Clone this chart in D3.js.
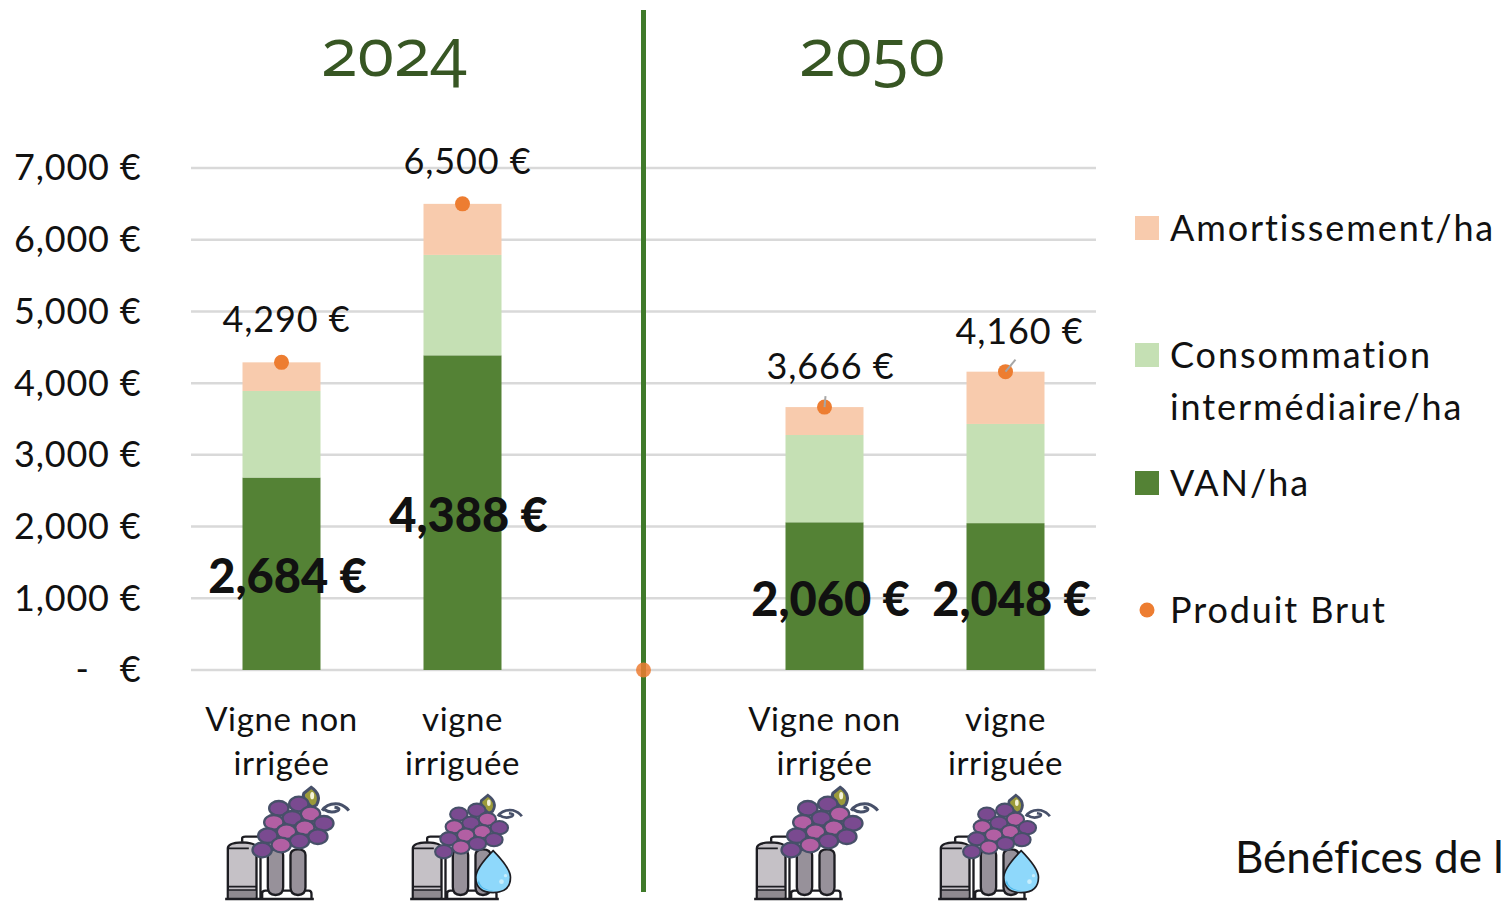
<!DOCTYPE html>
<html><head><meta charset="utf-8">
<script src="https://cdn.jsdelivr.net/npm/d3@7/dist/d3.min.js"></script>
<style>html,body{margin:0;background:#fff;overflow:hidden}svg{display:block}text{font-family:Lato,"Open Sans",sans-serif;fill:#111;font-variant-ligatures:none}</style>
</head><body><svg id="c" width="1501" height="903"></svg>
<script>
const categories=["a","b","gap","c","d"];
const barCategories=["a","b","c","d"];
const labelLines={a:["Vigne non","irrigée"],b:["vigne","irriguée"],c:["Vigne non","irrigée"],d:["vigne","irriguée"]};
const van=[2684,4388,2060,2048];
const conso=[1207,1400,1217,1383];
const amort=[399,712,389,729];
const produit=[4290,6500,3666,4160];
const produitGap=0;
const yTicks=[0,1000,2000,3000,4000,5000,6000,7000];
const years=["2024","2050"];
const C={van:"#548235",conso:"#c5e0b4",amort:"#f8cbad",dot:"#ed7d31",grid:"#d9d9d9",line:"#3f7a2a",title:"#375623"};

const svg=d3.select("#c");
const x=d3.scaleBand().domain(categories).range([191,1096]);
const y=d3.scaleLinear().domain([0,7000]).range([670,168]);
const cx=k=>x(k)+x.bandwidth()/2, bw=78;
const fmt=d3.format(",");

const ax=svg.append("g").attr("transform","translate(191,0)").call(
  d3.axisLeft(y).tickValues(yTicks).tickSize(0).tickPadding(49.5)
  .tickFormat(d=>d===0?"-\u00A0\u00A0\u00A0€":fmt(d)+" €"));
ax.select(".domain").remove();
ax.selectAll("text").attr("font-size",36).style("font-family","Lato").attr("fill","#111").attr("dy","0.33em").style("letter-spacing","0.8px");
svg.append("g").selectAll("line").data(yTicks).join("line")
 .attr("x1",191).attr("x2",1096).attr("y1",y).attr("y2",y)
 .attr("stroke",C.grid).attr("stroke-width",2.5);

barCategories.forEach((k,i)=>{
  let base=0;
  [[van[i],C.van],[conso[i],C.conso],[amort[i],C.amort]].forEach(([v,col])=>{
    svg.append("rect").attr("x",cx(k)-bw/2).attr("width",bw)
      .attr("y",y(base+v)).attr("height",y(base)-y(base+v)).attr("fill",col);
    base+=v;
  });
});

svg.append("line").attr("x1",cx("gap")).attr("x2",cx("gap")).attr("y1",10).attr("y2",892)
  .attr("stroke",C.line).attr("stroke-width",5);
barCategories.forEach((k,i)=>{
  svg.append("circle").attr("cx",cx(k)).attr("cy",y(produit[i])).attr("r",7.5).attr("fill",C.dot);
});
svg.append("circle").attr("cx",cx("gap")).attr("cy",y(produitGap)).attr("r",7.5).attr("fill",C.dot).attr("opacity",0.85);
[[2,1,-11],[3,10,-12]].forEach(([i,dx,dy])=>{
  const k=barCategories[i];
  svg.append("line").attr("x1",cx(k)).attr("y1",y(produit[i])).attr("x2",cx(k)+dx).attr("y2",y(produit[i])+dy)
    .attr("stroke","#a6a6a6").attr("stroke-width",2);
});

const totalOff=[[5,-43],[5,-43],[6,-41],[14,-41]];
barCategories.forEach((k,i)=>{
  svg.append("text").attr("x",cx(k)+totalOff[i][0]).attr("y",y(produit[i])+totalOff[i][1]+13)
   .attr("text-anchor","middle").attr("font-size",36).style("letter-spacing","0.9px").text(fmt(produit[i])+" €");
});
const vanLabelY=[577,516,600,600];
barCategories.forEach((k,i)=>{
  svg.append("text").attr("x",cx(k)+6).attr("y",vanLabelY[i]+16)
   .attr("text-anchor","middle").attr("font-size",47).attr("font-weight",900).text(fmt(van[i])+" €");
});
barCategories.forEach(k=>{
  labelLines[k].forEach((t,j)=>{
    svg.append("text").attr("x",cx(k)).attr("y",731+j*44).attr("text-anchor","middle")
      .attr("font-size",33).style("letter-spacing","0.6px").text(t);
  });
});
[[394,years[0]],[872,years[1]]].forEach(([px,t])=>{
  svg.append("text").attr("x",px).attr("y",76).attr("text-anchor","middle").attr("font-size",67)
    .style("fill",C.title).style("font-family","Open Sans").style("font-feature-settings",'"onum"').text(t);
});

const legend=[
 {t:["Amortissement/ha"],c:C.amort,ly:228},
 {t:["Consommation","intermédiaire/ha"],c:C.conso,ly:355},
 {t:["VAN/ha"],c:C.van,ly:483},
 {t:["Produit Brut"],c:C.dot,ly:610,dot:true}];
legend.forEach(d=>{
  if(d.dot) svg.append("circle").attr("cx",1147).attr("cy",d.ly).attr("r",7.5).attr("fill",d.c);
  else svg.append("rect").attr("x",1135).attr("y",d.ly-12).attr("width",24).attr("height",24).attr("fill",d.c);
  d.t.forEach((s,j)=>svg.append("text").attr("x",1170).attr("y",d.ly+13+j*52).attr("font-size",36).style("letter-spacing","1.9px").text(s));
});
svg.append("text").attr("x",1235).attr("y",873).attr("font-size",44).text("Bénéfices de l");

const grapes=[[205,85,0],[265,72,0],[300,102,1],[245,115,0],[190,127,1],[340,130,0],[283,143,1],[228,155,1],[172,167,0],[322,170,0],[267,183,0],[212,195,1],[155,210,0]];
function icon(k,dx,dy,drop){
  const g=svg.append("g").attr("transform",`translate(${cx(k)+dx},${dy}) scale(0.3333)`);
  const S="#1d1d22";
  g.append("path").attr("d","M95 185 V175 Q95 170 105 170 H170 M150 230 V355 M155 355 V340 Q155 332 165 332 H295 Q303 332 303 342 V355").attr("fill","none").attr("stroke",S).attr("stroke-width",7);
  g.append("path").attr("d","M52 355 V205 Q52 188 95 187 Q138 188 138 205 V355 Z").attr("fill","#c5c1c6").attr("stroke",S).attr("stroke-width",7);
  g.append("rect").attr("x",55).attr("y",330).attr("width",80).attr("height",24).attr("fill","#8f8a90");
  g.append("path").attr("d","M52 205 H115 M52 320 H138 M52 330 H138").attr("stroke",S).attr("stroke-width",5);
  [[172,218],[240,285]].forEach(([a,b])=>{
    g.append("path").attr("d",`M${a} 225 Q${a} 208 ${(a+b)/2} 208 Q${b} 208 ${b} 225 V322 Q${b} 345 ${(a+b)/2} 345 Q${a} 345 ${a} 322 Z`)
     .attr("fill","#97919a").attr("stroke",S).attr("stroke-width",7);
  });
  g.append("line").attr("x1",44).attr("x2",310).attr("y1",357).attr("y2",357).attr("stroke",S).attr("stroke-width",7);
  const h=g.append("g").attr("transform",drop?"translate(5.5,26) scale(0.9)":"");
  h.append("path").attr("d","M335 92 Q350 68 385 72 Q405 78 415 92 M340 88 Q360 102 382 92 Q392 84 372 82").attr("fill","none").attr("stroke","#475069").attr("stroke-width",9);
  h.append("path").attr("d","M302 22 Q335 45 318 75 L305 82 Q272 55 280 40 Z").attr("fill","#9b9a3a").attr("stroke","#475069").attr("stroke-width",9);
  h.append("ellipse").attr("cx",305).attr("cy",47).attr("rx",6).attr("ry",11).attr("fill","#f4f3d8");
  h.selectAll("ellipse.g").data(grapes).join("ellipse").attr("class","g")
   .attr("cx",d=>d[0]).attr("cy",d=>d[1]).attr("rx",29).attr("ry",22)
   .attr("fill",d=>d[2]?"#b25fa3":"#7a4a90").attr("stroke","#475069").attr("stroke-width",7);
  if(drop){
    g.append("path").attr("d","M293 212 Q345 265 345 292 Q345 338 293 338 Q241 338 241 292 Q241 265 293 212 Z")
     .attr("fill","#8ed8fb").attr("stroke",S).attr("stroke-width",5);
    g.append("path").attr("d","M250 300 Q255 330 295 332 Q262 335 247 310 Z").attr("fill","#4db8ec");
    g.append("circle").attr("cx",318).attr("cy",305).attr("r",7).attr("fill","#c8eefd");
    g.append("circle").attr("cx",330).attr("cy",287).attr("r",5).attr("fill","#c8eefd");
  }
}
icon("a",-71,780,false);
icon("b",-67,780,true);
icon("c",-85,780,false);
icon("d",-82,780,true);
</script></body></html>
